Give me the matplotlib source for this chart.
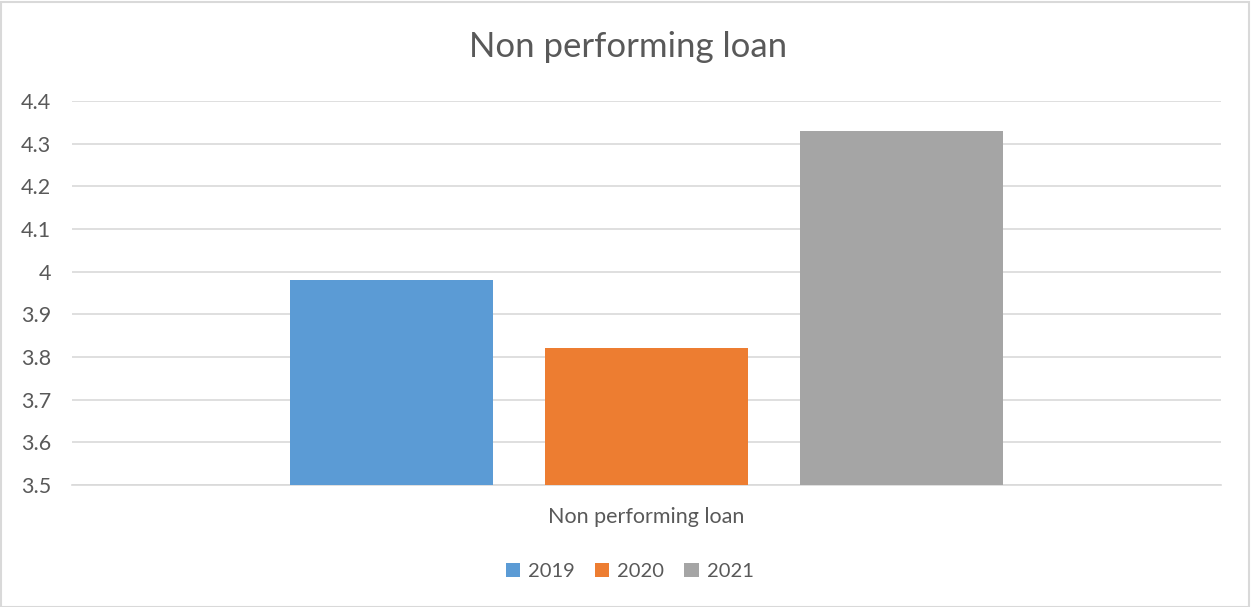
import matplotlib
matplotlib.use("Agg")
import matplotlib.pyplot as plt
from matplotlib.patches import Rectangle

# series data
category = "Non performing loan"
years = ["2019", "2020", "2021"]
values = [3.98, 3.82, 4.33]
colors = ["#5b9bd5", "#ed7d31", "#a5a5a5"]
yticks = [3.5, 3.6, 3.7, 3.8, 3.9, 4.0, 4.1, 4.2, 4.3, 4.4]
ytick_labels = ["3.5", "3.6", "3.7", "3.8", "3.9", "4", "4.1", "4.2", "4.3", "4.4"]

plt.rcParams["font.family"] = ["Lato", "DejaVu Sans"]
text_color = "#595959"
grid_color = "#d9d9d9"

fig = plt.figure(figsize=(12.52, 6.07), dpi=100)
ax = fig.add_axes([0.0575, 0.201, 0.9177, 0.6326])

width = 0.176
gap = 0.222
for i, (yr, v, c) in enumerate(zip(years, values, colors)):
    ax.bar((i - 1) * gap, v - 3.5, bottom=3.5, width=width, color=c, label=yr, zorder=3)

ax.set_xlim(-0.5, 0.5)
ax.set_ylim(3.5, 4.4)
ax.set_yticks(yticks)
ax.set_yticklabels(ytick_labels)
ax.set_xticks([0])
ax.set_xticklabels([category])
ax.tick_params(axis="both", length=0, labelsize=15.5, colors=text_color)
ax.tick_params(axis="x", pad=16)
ax.tick_params(axis="y", pad=15)
ax.grid(axis="y", color=grid_color, linewidth=1.2, zorder=0)
for s in ["top", "right", "left"]:
    ax.spines[s].set_visible(False)
ax.spines["bottom"].set_color(grid_color)
ax.spines["bottom"].set_linewidth(1.2)

fig.text(0.502, 0.922, category, ha="center", va="center", fontsize=25, color=text_color)

leg = fig.legend(loc="center", bbox_to_anchor=(0.503, 0.058), ncol=3, frameon=False,
                 fontsize=14.5, handlelength=0.7, handleheight=0.7,
                 handletextpad=0.4, columnspacing=1.0)
for t in leg.get_texts():
    t.set_color(text_color)

# light frame around the chart
fig.patches.append(Rectangle((0.001, 0.0), 0.997, 0.997, transform=fig.transFigure,
                             fill=False, edgecolor="#d9d9d9", linewidth=1.5))

fig.savefig("out.png", dpi=100)
